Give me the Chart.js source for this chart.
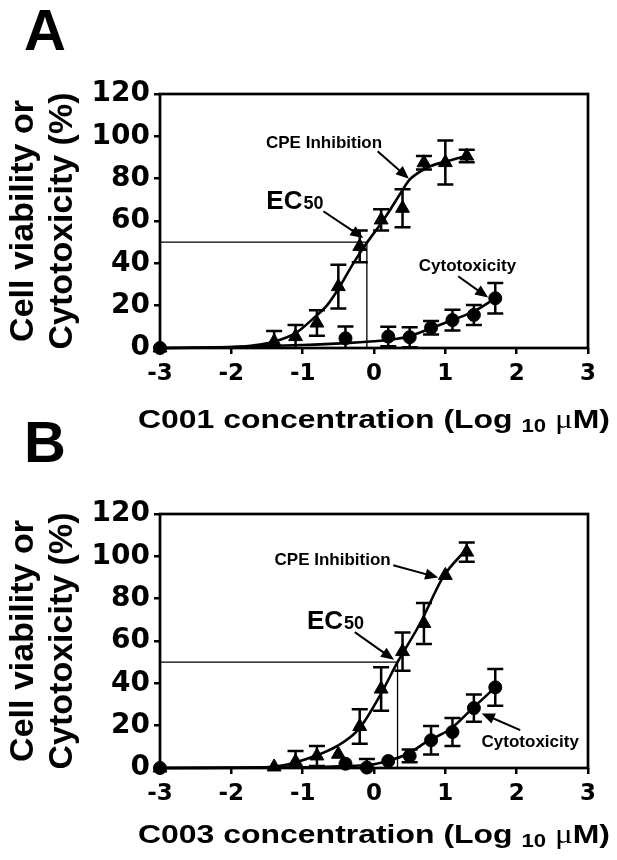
<!DOCTYPE html>
<html>
<head>
<meta charset="utf-8">
<script src="https://cdn.jsdelivr.net/npm/chart.js@4"></script>
<style>
  html, body { margin: 0; padding: 0; background: #fff; }
  body { width: 617px; height: 860px; position: relative; overflow: hidden; }
  canvas { position: absolute; left: 0; }
  #chartA { top: 0; }
  #chartB { top: 420px; }
</style>
</head>
<body>
<canvas id="chartA" width="617" height="440"></canvas>
<canvas id="chartB" width="617" height="440"></canvas>
<script>
const xTickVals = [-3, -2, -1, 0, 1, 2, 3];
const yTickVals = [0, 20, 40, 60, 80, 100, 120];

// panel A : C001
const cpeXA = [-3, -1.4, -1.1, -0.8, -0.5, -0.2, 0.1, 0.4, 0.7, 1.0, 1.3];
const cpeYA = [0, 3, 5.4, 11.8, 29, 48, 60.5, 66, 87.5, 87.6, 90.7];
const cpeErrA = [0, 5, 5.5, 6, 10.3, 7.5, 5, 9, 3.2, 10.4, 3];
const cytoXA = [-3, -0.4, 0.2, 0.5, 0.8, 1.1, 1.4, 1.7];
const cytoYA = [0, 4.6, 5.4, 5.1, 9.6, 13.2, 15.6, 23.5];
const cytoErrA = [0, 5.5, 4.6, 4.7, 3.2, 4.9, 4.7, 7.2];
const fitCpeXA = [-3, -2.5, -2, -1.7, -1.4, -1.1, -0.85, -0.65, -0.48, -0.29, -0.1, 0.08, 0.22, 0.37, 0.5, 0.78, 1.02, 1.35];
const fitCpeYA = [0, 0.1, 0.4, 1.2, 3, 7, 14, 20.5, 29, 40, 49.7, 58, 65, 73, 79.5, 85.7, 88.2, 91.2];
const fitCytoXA = [-3, -2, -1, -0.4, 0, 0.2, 0.5, 0.8, 1.1, 1.4, 1.7];
const fitCytoYA = [0, 0.5, 1.4, 2.3, 3.2, 3.8, 5.6, 9.3, 13.2, 17.3, 23.5];
const ec50A = -0.1;

// panel B : C003
const cpeXB = [-3, -1.4, -1.1, -0.8, -0.5, -0.2, 0.1, 0.4, 0.7, 1.0, 1.3];
const cpeYB = [0, 0.5, 3, 5.7, 6.5, 19.6, 37.3, 55, 68.3, 91, 102];
const cpeErrB = [0, 0, 5, 4.7, 0, 8.2, 10.3, 9, 9.7, 0, 4.5];
const cytoXB = [-3, -0.4, -0.1, 0.2, 0.5, 0.8, 1.1, 1.4, 1.7];
const cytoYB = [0, 2, 0.2, 3.3, 5.7, 13.1, 17, 28.3, 38.1];
const cytoErrB = [0, 0, 4, 0, 3, 6.7, 6.6, 6.4, 8.7];
const fitCpeXB = [-3, -2, -1.43, -1.13, -0.8, -0.52, -0.21, 0.08, 0.33, 0.65, 0.97, 1.3];
const fitCpeYB = [0, 0.1, 0.6, 2.4, 6, 10.3, 18.5, 34, 50, 68.5, 90.3, 103.5];
const fitCytoXB = [-3, -1, -0.5, 0, 0.18, 0.46, 0.76, 1.07, 1.37, 1.7];
const fitCytoYB = [0, 0.3, 0.8, 1.8, 3.2, 6.5, 12.8, 18.4, 27.8, 38.1];
const ec50B = 0.33;

const pts = (xs, ys) => xs.map((x, i) => ({ x, y: ys[i] }));
const SANS = '"Liberation Sans", Arial, sans-serif';

const errorBars = {
  id: 'errorBars',
  afterDatasetsDraw(chart) {
    const { ctx, chartArea: a, scales: { x, y } } = chart;
    ctx.save();
    ctx.beginPath();
    ctx.rect(a.left, a.top, a.right - a.left, a.bottom - a.top);
    ctx.clip();
    ctx.strokeStyle = '#000';
    ctx.lineWidth = 2.5;
    chart.data.datasets.forEach(ds => {
      if (!ds.errors) return;
      ds.data.forEach((p, j) => {
        const e = ds.errors[j];
        if (!e) return;
        const px = x.getPixelForValue(p.x);
        const top = y.getPixelForValue(p.y + e);
        const bot = y.getPixelForValue(p.y - e);
        ctx.beginPath();
        ctx.moveTo(px, top); ctx.lineTo(px, bot);
        ctx.moveTo(px - 8, top); ctx.lineTo(px + 8, top);
        ctx.moveTo(px - 8, bot); ctx.lineTo(px + 8, bot);
        ctx.stroke();
      });
    });
    ctx.restore();
  }
};

function arrow(ctx, x1, y1, x2, y2) {
  const a = Math.atan2(y2 - y1, x2 - x1);
  const h = 13, w = 5.5;
  ctx.beginPath();
  ctx.moveTo(x1, y1);
  ctx.lineTo(x2 - h * 0.7 * Math.cos(a), y2 - h * 0.7 * Math.sin(a));
  ctx.stroke();
  ctx.beginPath();
  ctx.moveTo(x2, y2);
  ctx.lineTo(x2 - h * Math.cos(a) + w * Math.sin(a), y2 - h * Math.sin(a) - w * Math.cos(a));
  ctx.lineTo(x2 - h * Math.cos(a) - w * Math.sin(a), y2 - h * Math.sin(a) + w * Math.cos(a));
  ctx.closePath();
  ctx.fill();
}

// x axis title, Helvetica-like and slightly widened like the source figure
function xTitle(ctx, compound, left, base, width) {
  const parts = [
    [compound + ' concentration (Log ', 'bold 26px ' + SANS, 0],
    ['10', 'bold 18px ' + SANS, 4],
    [' ', 'bold 26px ' + SANS, 0],
    ['\u03bc', '27px "Liberation Serif", serif', 0],
    ['M)', 'bold 26px ' + SANS, 0]
  ];
  let total = 0;
  parts.forEach(([t, f]) => { ctx.font = f; total += ctx.measureText(t).width; });
  ctx.save();
  ctx.translate(left, base);
  ctx.scale(width / total, 1);
  let tx = 0;
  parts.forEach(([t, f, dy]) => {
    ctx.font = f;
    ctx.fillText(t, tx, dy);
    tx += ctx.measureText(t).width;
  });
  ctx.restore();
}

const decor = {
  id: 'decor',
  afterDraw(chart, args, o) {
    const { ctx, chartArea: a, scales: { x, y } } = chart;
    const X = v => x.getPixelForValue(v), Y = v => y.getPixelForValue(v);
    ctx.save();
    ctx.fillStyle = '#000';
    ctx.strokeStyle = '#000';

    // frame
    ctx.lineWidth = 2.7;
    ctx.strokeRect(a.left, a.top, a.right - a.left, a.bottom - a.top);

    // panel letter
    ctx.font = 'bold 58px ' + SANS;
    ctx.textBaseline = 'alphabetic';
    ctx.textAlign = 'left';
    ctx.fillText(o.letter, 24, o.letterBase);

    xTitle(ctx, o.compound, 138, o.titleBase, 472);

    // annotations
    ctx.lineWidth = 2;
    ctx.textAlign = 'center';
    ctx.textBaseline = 'middle';
    ctx.font = 'bold 17px ' + SANS;
    ctx.fillText('CPE Inhibition', X(o.cpeLabel[0]), Y(o.cpeLabel[1]));
    arrow(ctx, X(o.cpeArrow[0]), Y(o.cpeArrow[1]), X(o.cpeArrow[2]), Y(o.cpeArrow[3]));
    ctx.fillText('Cytotoxicity', X(o.cytoLabel[0]), Y(o.cytoLabel[1]));
    arrow(ctx, X(o.cytoArrow[0]), Y(o.cytoArrow[1]), X(o.cytoArrow[2]), Y(o.cytoArrow[3]));

    ctx.textAlign = 'left';
    ctx.textBaseline = 'alphabetic';
    ctx.font = 'bold 26px ' + SANS;
    const ex = X(o.ecLabel[0]), ey = Y(o.ecLabel[1]);
    ctx.fillText('EC', ex, ey);
    const ew = ctx.measureText('EC').width;
    ctx.font = 'bold 18px ' + SANS;
    ctx.fillText('50', ex + ew + 1, ey);
    arrow(ctx, X(o.ecArrow[0]), Y(o.ecArrow[1]), X(o.ecArrow[2]), Y(o.ecArrow[3]));
    ctx.restore();
  }
};

function makePanel(id, d) {
  const axisFont = { family: '"DejaVu Sans", sans-serif', weight: 'bold' };
  return new Chart(document.getElementById(id), {
    type: 'scatter',
    data: {
      datasets: [
        { data: pts(d.cpeX, d.cpeY), errors: d.cpeErr, pointStyle: 'triangle', pointRadius: 8,
          backgroundColor: '#000', borderColor: '#000', borderWidth: 1, clip: false },
        { data: pts(d.cytoX, d.cytoY), errors: d.cytoErr, pointStyle: 'circle', pointRadius: 6.5,
          backgroundColor: '#000', borderColor: '#000', borderWidth: 1, clip: false },
        { data: pts(d.fitCpeX, d.fitCpeY), showLine: true, pointRadius: 0, borderColor: '#000',
          borderWidth: 2.6, cubicInterpolationMode: 'monotone', clip: false },
        { data: pts(d.fitCytoX, d.fitCytoY), showLine: true, pointRadius: 0, borderColor: '#000',
          borderWidth: 2.6, cubicInterpolationMode: 'monotone', clip: false },
        { data: [{ x: -3, y: 50 }, { x: d.ec50, y: 50 }, { x: d.ec50, y: 0 }], showLine: true,
          pointRadius: 0, borderColor: '#000', borderWidth: 1.3, tension: 0 }
      ]
    },
    options: {
      responsive: false,
      animation: false,
      devicePixelRatio: 1,
      layout: { padding: { left: 0, right: 29, top: 94, bottom: 10 } },
      plugins: { legend: { display: false }, tooltip: { enabled: false }, decor: d.decor },
      scales: {
        x: {
          type: 'linear', min: -3, max: 3,
          afterBuildTicks: s => { s.ticks = xTickVals.map(v => ({ value: v })); },
          afterFit: s => { s.height = 82; },
          border: { display: false },
          grid: { drawOnChartArea: false, drawTicks: true, tickLength: 6, color: '#000', lineWidth: 2.5 },
          ticks: { color: '#000', padding: 6, font: { ...axisFont, size: 23 }, callback: v => String(v) }
        },
        y: {
          type: 'linear', min: 0, max: 120,
          afterBuildTicks: s => { s.ticks = yTickVals.map(v => ({ value: v })); },
          afterFit: s => { s.width = 160; },
          border: { display: false },
          grid: { drawOnChartArea: false, drawTicks: true, tickLength: 6, color: '#000', lineWidth: 2.5 },
          ticks: { color: '#000', padding: 4, font: { ...axisFont, size: 28 }, callback: v => String(v) },
          title: {
            display: true, color: '#000', padding: { top: 4, bottom: 0 },
            text: ['Cell viability or', 'Cytotoxicity (%)'],
            font: { family: SANS, weight: 'bold', size: 34, lineHeight: 1.15 }
          }
        }
      }
    },
    plugins: [errorBars, decor]
  });
}

makePanel('chartA', {
  cpeX: cpeXA, cpeY: cpeYA, cpeErr: cpeErrA,
  cytoX: cytoXA, cytoY: cytoYA, cytoErr: cytoErrA,
  fitCpeX: fitCpeXA, fitCpeY: fitCpeYA, fitCytoX: fitCytoXA, fitCytoY: fitCytoYA,
  ec50: ec50A,
  decor: {
    letter: 'A', letterBase: 50, compound: 'C001', titleBase: 428,
    cpeLabel: [-0.70, 96.7], cpeArrow: [0.05, 92.9, 0.49, 80],
    ecLabel: [-1.51, 65.5], ecArrow: [-0.71, 64.6, -0.15, 52],
    cytoLabel: [1.31, 38.4], cytoArrow: [1.18, 33.9, 1.6, 23.8]
  }
});

makePanel('chartB', {
  cpeX: cpeXB, cpeY: cpeYB, cpeErr: cpeErrB,
  cytoX: cytoXB, cytoY: cytoYB, cytoErr: cytoErrB,
  fitCpeX: fitCpeXB, fitCpeY: fitCpeYB, fitCytoX: fitCytoXB, fitCytoY: fitCytoYB,
  ec50: ec50B,
  decor: {
    letter: 'B', letterBase: 42, compound: 'C003', titleBase: 423,
    cpeLabel: [-0.58, 98.2], cpeArrow: [0.27, 95.8, 0.9, 90],
    ecLabel: [-0.94, 65.8], ecArrow: [-0.27, 64.2, 0.28, 51.1],
    cytoLabel: [2.19, 12], cytoArrow: [2.05, 17.9, 1.51, 25.8]
  }
});
</script>
</body>
</html>
